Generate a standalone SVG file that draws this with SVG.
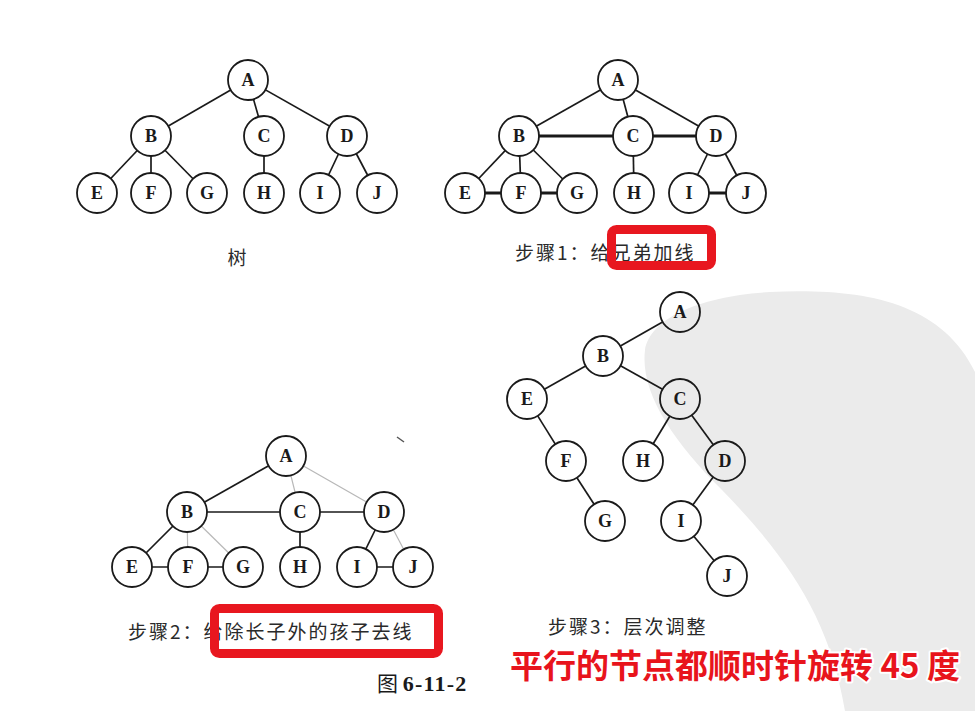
<svg xmlns="http://www.w3.org/2000/svg" width="975" height="711" viewBox="0 0 975 711">
<style>
.n circle{fill:#fff;stroke:#1a1a1a;stroke-width:1.8}
.t4 circle{fill:none}
.n text{font-family:"Liberation Serif",serif;font-weight:bold;font-size:18px;fill:#1a1a1a;text-anchor:middle;dominant-baseline:central}
.e line{stroke:#1a1a1a;stroke-width:1.7}
.e .thick{stroke-width:3.2}
.e .light{stroke:#b8b8b8;stroke-width:1.2}
.cap{font-family:"Noto Sans CJK SC","Noto Sans",sans-serif;font-size:19px;letter-spacing:2px;fill:#2a2a2a}
.box{fill:none;stroke:#e8171f;stroke-width:9}
.red{font-family:"Noto Sans CJK SC",sans-serif;font-weight:bold;font-size:33px;fill:#e8141c;stroke:#fff;stroke-width:4;paint-order:stroke;stroke-linejoin:round}
</style>
<rect width="975" height="711" fill="#fff"/>
<path id="watermark" d="M975,372 C940,300 860,288 770,292 C700,296 650,318 645,350 C640,392 672,440 722,490 C790,560 830,620 845,711 L975,711 Z" fill="#ebebeb"/>

<!-- Tree 1 -->
<g id="tree1-edges" class="e">
<line x1="248" y1="80" x2="151" y2="136"/><line x1="248" y1="80" x2="264" y2="136"/><line x1="248" y1="80" x2="347" y2="136"/>
<line x1="151" y1="136" x2="97" y2="193"/><line x1="151" y1="136" x2="151" y2="193"/><line x1="151" y1="136" x2="207" y2="193"/>
<line x1="264" y1="136" x2="264" y2="193"/><line x1="347" y1="136" x2="320" y2="193"/><line x1="347" y1="136" x2="377" y2="193"/>
</g>
<g id="t1A" class="n"><circle cx="248" cy="80" r="20"/><text x="248" y="80">A</text></g>
<g id="t1B" class="n"><circle cx="151" cy="136" r="20"/><text x="151" y="136">B</text></g>
<g id="t1C" class="n"><circle cx="264" cy="136" r="20"/><text x="264" y="136">C</text></g>
<g id="t1D" class="n"><circle cx="347" cy="136" r="20"/><text x="347" y="136">D</text></g>
<g id="t1E" class="n"><circle cx="97" cy="193" r="20"/><text x="97" y="193">E</text></g>
<g id="t1F" class="n"><circle cx="151" cy="193" r="20"/><text x="151" y="193">F</text></g>
<g id="t1G" class="n"><circle cx="207" cy="193" r="20"/><text x="207" y="193">G</text></g>
<g id="t1H" class="n"><circle cx="264" cy="193" r="20"/><text x="264" y="193">H</text></g>
<g id="t1I" class="n"><circle cx="320" cy="193" r="20"/><text x="320" y="193">I</text></g>
<g id="t1J" class="n"><circle cx="377" cy="193" r="20"/><text x="377" y="193">J</text></g>
<text class="cap" x="237" y="265" text-anchor="middle" style="letter-spacing:0">树</text>

<!-- Tree 2 -->
<g id="tree2-edges" class="e">
<line x1="618" y1="80" x2="519" y2="136"/><line x1="618" y1="80" x2="633" y2="136"/><line x1="618" y1="80" x2="716" y2="136"/>
<line x1="519" y1="136" x2="465" y2="193"/><line x1="519" y1="136" x2="521" y2="193"/><line x1="519" y1="136" x2="577" y2="193"/>
<line x1="633" y1="136" x2="634" y2="193"/><line x1="716" y1="136" x2="689" y2="193"/><line x1="716" y1="136" x2="746" y2="193"/>
<line class="thick" x1="519" y1="136" x2="633" y2="136"/><line class="thick" x1="633" y1="136" x2="716" y2="136"/>
<line class="thick" x1="465" y1="193" x2="521" y2="193"/><line class="thick" x1="521" y1="193" x2="577" y2="193"/>
<line class="thick" x1="689" y1="193" x2="746" y2="193"/>
</g>
<g id="t2A" class="n"><circle cx="618" cy="80" r="20"/><text x="618" y="80">A</text></g>
<g id="t2B" class="n"><circle cx="519" cy="136" r="20"/><text x="519" y="136">B</text></g>
<g id="t2C" class="n"><circle cx="633" cy="136" r="20"/><text x="633" y="136">C</text></g>
<g id="t2D" class="n"><circle cx="716" cy="136" r="20"/><text x="716" y="136">D</text></g>
<g id="t2E" class="n"><circle cx="465" cy="193" r="20"/><text x="465" y="193">E</text></g>
<g id="t2F" class="n"><circle cx="521" cy="193" r="20"/><text x="521" y="193">F</text></g>
<g id="t2G" class="n"><circle cx="577" cy="193" r="20"/><text x="577" y="193">G</text></g>
<g id="t2H" class="n"><circle cx="634" cy="193" r="20"/><text x="634" y="193">H</text></g>
<g id="t2I" class="n"><circle cx="689" cy="193" r="20"/><text x="689" y="193">I</text></g>
<g id="t2J" class="n"><circle cx="746" cy="193" r="20"/><text x="746" y="193">J</text></g>
<text class="cap" x="515" y="260">步骤1：给兄弟加线</text>
<rect class="box" x="611.5" y="229.5" width="100" height="36" rx="5"/>

<!-- Tree 3 -->
<g id="tree3-edges" class="e">
<line class="light" x1="286" y1="456" x2="300" y2="512"/><line class="light" x1="286" y1="456" x2="384" y2="512"/>
<line class="light" x1="187" y1="512" x2="188" y2="567"/><line class="light" x1="187" y1="512" x2="243" y2="567"/>
<line class="light" x1="384" y1="512" x2="413" y2="567"/>
<line x1="286" y1="456" x2="187" y2="512"/>
<line x1="187" y1="512" x2="300" y2="512"/><line x1="300" y1="512" x2="384" y2="512"/>
<line x1="187" y1="512" x2="132" y2="567"/>
<line x1="132" y1="567" x2="188" y2="567"/><line x1="188" y1="567" x2="243" y2="567"/>
<line x1="300" y1="512" x2="300" y2="567"/><line x1="384" y1="512" x2="357" y2="567"/>
<line x1="357" y1="567" x2="413" y2="567"/>
</g>
<g id="t3A" class="n"><circle cx="286" cy="456" r="20"/><text x="286" y="456">A</text></g>
<g id="t3B" class="n"><circle cx="187" cy="512" r="20"/><text x="187" y="512">B</text></g>
<g id="t3C" class="n"><circle cx="300" cy="512" r="20"/><text x="300" y="512">C</text></g>
<g id="t3D" class="n"><circle cx="384" cy="512" r="20"/><text x="384" y="512">D</text></g>
<g id="t3E" class="n"><circle cx="132" cy="567" r="20"/><text x="132" y="567">E</text></g>
<g id="t3F" class="n"><circle cx="188" cy="567" r="20"/><text x="188" y="567">F</text></g>
<g id="t3G" class="n"><circle cx="243" cy="567" r="20"/><text x="243" y="567">G</text></g>
<g id="t3H" class="n"><circle cx="300" cy="567" r="20"/><text x="300" y="567">H</text></g>
<g id="t3I" class="n"><circle cx="357" cy="567" r="20"/><text x="357" y="567">I</text></g>
<g id="t3J" class="n"><circle cx="413" cy="567" r="20"/><text x="413" y="567">J</text></g>
<line x1="397" y1="437" x2="404" y2="442" stroke="#555" stroke-width="1.5"/>
<text class="cap" x="128" y="639">步骤2：给除长子外的孩子去线</text>
<rect class="box" x="214.5" y="608.5" width="224" height="45" rx="5"/>
<text x="377" y="691" font-family="'Noto Sans CJK SC',sans-serif" font-size="21" fill="#1a1a1a">图 <tspan font-family="'Liberation Serif',serif" font-weight="bold" font-size="22" letter-spacing="1.2">6-11-2</tspan></text>

<!-- Tree 4 -->
<g id="tree4-edges" class="e">
<line x1="662.6" y1="321.9" x2="620.4" y2="346.1"/>
<line x1="585.6" y1="365.9" x2="544.4" y2="389.2"/>
<line x1="620.5" y1="365.8" x2="662.5" y2="389.3"/>
<line x1="537.7" y1="415.9" x2="555.3" y2="444.1"/>
<line x1="576.9" y1="477.8" x2="594.1" y2="504.2"/>
<line x1="669.8" y1="416.2" x2="653.2" y2="443.8"/>
<line x1="691.7" y1="415.2" x2="713.3" y2="444.8"/>
<line x1="713.2" y1="477.1" x2="692.8" y2="504.9"/>
<line x1="693.8" y1="536.3" x2="714.2" y2="560.7"/>
</g>
<g id="t4A" class="n t4"><circle cx="680" cy="312" r="20"/><text x="680" y="312">A</text></g>
<g id="t4B" class="n t4"><circle cx="603" cy="356" r="20"/><text x="603" y="356">B</text></g>
<g id="t4E" class="n t4"><circle cx="527" cy="399" r="20"/><text x="527" y="399">E</text></g>
<g id="t4C" class="n t4"><circle cx="680" cy="399" r="20"/><text x="680" y="399">C</text></g>
<g id="t4F" class="n t4"><circle cx="566" cy="461" r="20"/><text x="566" y="461">F</text></g>
<g id="t4H" class="n t4"><circle cx="643" cy="461" r="20"/><text x="643" y="461">H</text></g>
<g id="t4D" class="n t4"><circle cx="725" cy="461" r="20"/><text x="725" y="461">D</text></g>
<g id="t4G" class="n t4"><circle cx="605" cy="521" r="20"/><text x="605" y="521">G</text></g>
<g id="t4I" class="n t4"><circle cx="681" cy="521" r="20"/><text x="681" y="521">I</text></g>
<g id="t4J" class="n t4"><circle cx="727" cy="576" r="20"/><text x="727" y="576">J</text></g>
<text class="cap" x="548" y="634">步骤3：层次调整</text>

<text class="red" x="510" y="678">平行的节点都顺时针旋转 45 度</text>
</svg>
